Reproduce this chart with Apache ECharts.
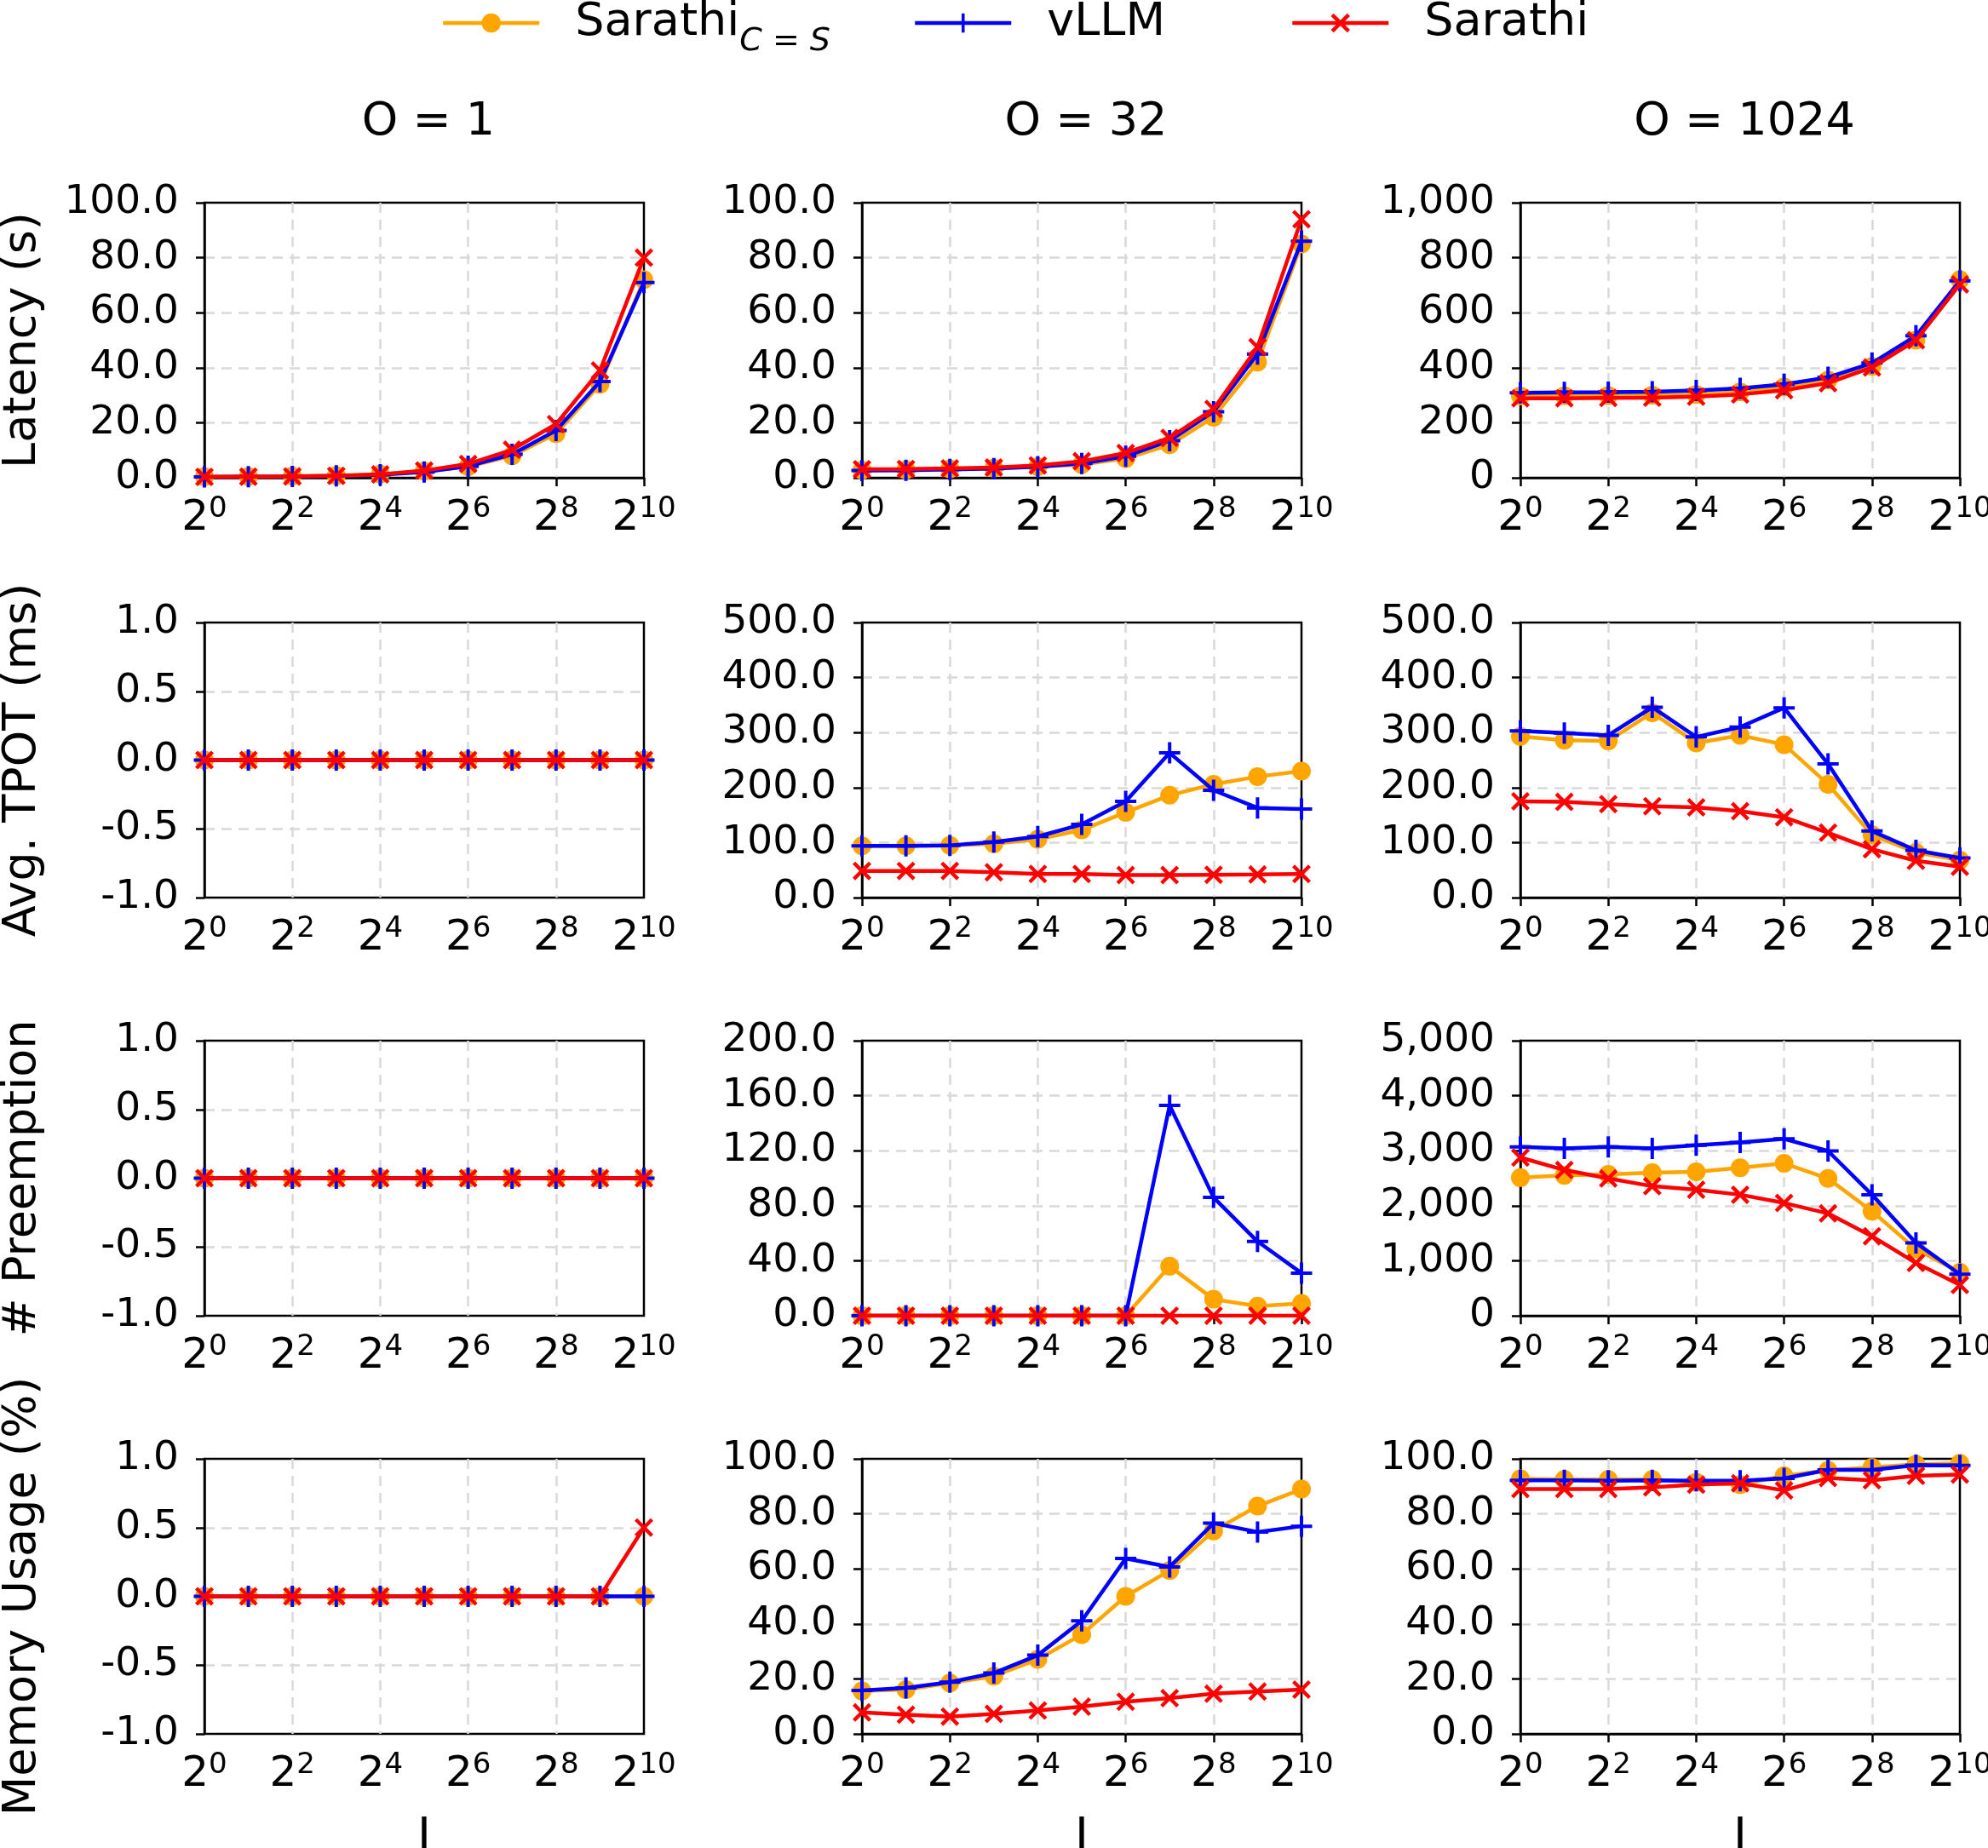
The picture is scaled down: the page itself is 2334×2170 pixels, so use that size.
<!DOCTYPE html>
<html>
<head>
<meta charset="utf-8">
<script src="https://cdn.jsdelivr.net/npm/echarts@6/dist/echarts.min.js"></script>
<style>
  html, body { margin: 0; padding: 0; background: #fff; }
  #main { width: 2334px; height: 2170px; }
</style>
</head>
<body>
<div id="main"></div>
<script>
// input length I (x axis)
const inputLens = [1, 2, 4, 8, 16, 32, 64, 128, 256, 512, 1024];
const zeros = [0, 0, 0, 0, 0, 0, 0, 0, 0, 0, 0];

// Latency (s)
const latO1Cs = [0.4, 0.5, 0.6, 0.8, 1.3, 2.4, 4.0, 8.0, 16.0, 34.0, 72.0];
const latO1Vllm = [0.3, 0.4, 0.5, 0.7, 1.1, 2.1, 4.2, 8.5, 17.2, 35.0, 71.0];
const latO1Sarathi = [0.3, 0.4, 0.5, 0.7, 1.2, 2.6, 5.0, 10.2, 19.5, 39.0, 80.0];
const latO32Cs = [2.8, 2.9, 3.2, 3.5, 4.0, 4.8, 7.0, 12.0, 22.0, 42.0, 85.0];
const latO32Vllm = [2.6, 2.7, 3.0, 3.3, 4.0, 5.2, 7.8, 13.5, 24.0, 45.0, 86.0];
const latO32Sarathi = [3.1, 3.2, 3.4, 3.7, 4.5, 6.0, 9.0, 14.5, 25.0, 47.5, 94.0];
const latO1024Cs = [297, 298, 299, 300, 303, 312, 330, 355, 405, 500, 720];
const latO1024Vllm = [309, 310, 311, 313, 317, 325, 340, 365, 417, 516, 716];
const latO1024Sarathi = [289, 289, 290, 291, 295, 303, 318, 344, 401, 500, 703];

// Avg. TPOT (ms)
const tpotO1Cs = zeros, tpotO1Vllm = zeros, tpotO1Sarathi = zeros;
const tpotO32Cs = [94, 94, 95, 98, 106, 123, 155, 186, 206, 220, 230];
const tpotO32Vllm = [94, 94, 95, 101, 111, 133, 175, 263, 195, 163, 161];
const tpotO32Sarathi = [48.5, 48.5, 48.5, 46, 43, 43, 41, 41, 41.5, 42, 43];
const tpotO1024Cs = [293, 286, 285, 336, 281, 295, 278, 206, 114, 82, 68];
const tpotO1024Vllm = [303, 299, 295, 346, 292, 310, 345, 243, 121, 86, 72];
const tpotO1024Sarathi = [175, 174, 170, 166, 164, 157, 146, 118, 88, 67, 56];

// # Preemption
const preO1Cs = zeros, preO1Vllm = zeros, preO1Sarathi = zeros;
const preO32Cs = [0, 0, 0, 0, 0, 0, 0, 36, 12, 7, 9];
const preO32Vllm = [0, 0, 0, 0, 0, 0, 0, 153, 86, 54, 31];
const preO32Sarathi = zeros;
const preO1024Cs = [2510, 2550, 2570, 2600, 2615, 2690, 2770, 2495, 1900, 1210, 790];
const preO1024Vllm = [3070, 3040, 3070, 3040, 3100, 3150, 3215, 2995, 2200, 1325, 755];
const preO1024Sarathi = [2875, 2650, 2495, 2355, 2290, 2200, 2050, 1860, 1445, 960, 560];

// Memory Usage (%)
const memO1Cs = zeros, memO1Vllm = zeros;
const memO1Sarathi = [0, 0, 0, 0, 0, 0, 0, 0, 0, 0, 0.5];
const memO32Cs = [15.6, 16.1, 18.5, 21.0, 27.1, 36.1, 50.0, 59.4, 73.8, 82.8, 89.0];
const memO32Vllm = [15.8, 16.7, 18.8, 22.1, 28.6, 41.1, 63.8, 60.7, 76.6, 73.4, 75.5];
const memO32Sarathi = [7.8, 7.0, 6.3, 7.3, 8.5, 9.9, 11.7, 13.0, 14.6, 15.4, 16.1];
const memO1024Cs = [92.7, 92.5, 92.5, 92.5, 91.5, 90.6, 93.8, 95.8, 96.9, 98.0, 98.4];
const memO1024Vllm = [92.2, 92.2, 92.0, 92.2, 92.0, 92.0, 92.9, 96.0, 96.0, 97.7, 97.6];
const memO1024Sarathi = [89.0, 89.0, 89.0, 89.6, 90.6, 91.1, 88.5, 93.0, 92.2, 93.8, 94.3];

const colTitles = ['O = 1', 'O = 32', 'O = 1024'];
const rowLabels = ['Latency (s)', 'Avg. TPOT (ms)', '# Preemption', 'Memory Usage (%)'];
const seriesNames = ['Sarathi_C=S', 'vLLM', 'Sarathi'];

// [cs, vllm, sarathi, yMin, yMax, yStep, comma?]
const panels = [
  [[latO1Cs, latO1Vllm, latO1Sarathi, 0, 100, 20, false],
   [latO32Cs, latO32Vllm, latO32Sarathi, 0, 100, 20, false],
   [latO1024Cs, latO1024Vllm, latO1024Sarathi, 0, 1000, 200, true]],
  [[tpotO1Cs, tpotO1Vllm, tpotO1Sarathi, -1, 1, 0.5, false],
   [tpotO32Cs, tpotO32Vllm, tpotO32Sarathi, 0, 500, 100, false],
   [tpotO1024Cs, tpotO1024Vllm, tpotO1024Sarathi, 0, 500, 100, false]],
  [[preO1Cs, preO1Vllm, preO1Sarathi, -1, 1, 0.5, false],
   [preO32Cs, preO32Vllm, preO32Sarathi, 0, 200, 40, false],
   [preO1024Cs, preO1024Vllm, preO1024Sarathi, 0, 5000, 1000, true]],
  [[memO1Cs, memO1Vllm, memO1Sarathi, -1, 1, 0.5, false],
   [memO32Cs, memO32Vllm, memO32Sarathi, 0, 100, 20, false],
   [memO1024Cs, memO1024Vllm, memO1024Sarathi, 0, 100, 20, false]]
];

const FONT = 'DejaVu Sans';
const gridLeft = [240, 1012, 1785];
const gridTop = [238, 731, 1222, 1713];
const W = 516, H = 323;

const colors = ['#FFA500', '#0000FF', '#FF0000'];
const plusPath = 'path://M8.4,0H11.6V8.4H20V11.6H11.6V20H8.4V11.6H0V8.4H8.4Z';
const crossPath = 'path://M0,2.8L2.8,0L10,7.2L17.2,0L20,2.8L12.8,10L20,17.2L17.2,20L10,12.8L2.8,20L0,17.2L7.2,10Z';
const symbols = ['circle', plusPath, crossPath];
const symbolSizes = [22, 25, 22];

const chart = echarts.init(document.getElementById('main'));

const grids = [], xAxes = [], yAxes = [], series = [], titles = [];
const lineCol = '#000';
const gridLineStyle = { color: '#d9d9d9', width: 2.5, type: [12, 8] };

panels.forEach((row, r) => {
  row.forEach((p, c) => {
    const idx = grids.length;
    grids.push({
      left: gridLeft[c], top: gridTop[r], width: W, height: H,
      outerBoundsMode: 'none', containLabel: false,
      show: true, borderColor: lineCol, borderWidth: 2.5, backgroundColor: 'transparent'
    });
    xAxes.push({
      gridIndex: idx, type: 'log', logBase: 2, min: 1, max: 1024, interval: 2,
      name: r === 3 ? 'I' : '', nameLocation: 'middle', nameGap: 95,
      nameTextStyle: { fontFamily: FONT, fontSize: 54, color: '#000' },
      axisLine: { show: true, lineStyle: { color: lineCol, width: 2.5 } },
      axisTick: { show: true, length: 10, lineStyle: { color: lineCol, width: 2.5 } },
      axisLabel: {
        margin: 20, color: '#000', fontFamily: FONT,
        formatter: v => '{b|2}{s|' + Math.round(Math.log2(v)) + '}',
        rich: {
          b: { fontSize: 50, fontFamily: FONT, color: '#000', lineHeight: 56 },
          s: { fontSize: 34, fontFamily: FONT, color: '#000', verticalAlign: 'top', lineHeight: 34 }
        }
      },
      splitLine: { show: true, showMinLine: false, showMaxLine: false, lineStyle: gridLineStyle }
    });
    yAxes.push({
      gridIndex: idx, type: 'value', min: p[3], max: p[4], interval: p[5],
      name: c === 0 ? rowLabels[r] : '', nameLocation: 'middle', nameGap: 186,
      nameTextStyle: { fontFamily: FONT, fontSize: 54, color: '#000' },
      axisLine: { show: true, lineStyle: { color: lineCol, width: 2.5 } },
      axisTick: { show: true, length: 10, lineStyle: { color: lineCol, width: 2.5 } },
      axisLabel: {
        margin: 30, color: '#000', fontFamily: FONT, fontSize: 47,
        formatter: p[6] ? (v => v.toLocaleString('en-US')) : (v => v.toFixed(1))
      },
      splitLine: { show: true, showMinLine: false, showMaxLine: false, lineStyle: gridLineStyle }
    });
    for (let s = 0; s < 3; s++) {
      series.push({
        name: seriesNames[s], type: 'line', xAxisIndex: idx, yAxisIndex: idx,
        data: inputLens.map((x, i) => [x, p[s][i]]),
        symbol: symbols[s], symbolSize: symbolSizes[s], showAllSymbol: true,
        itemStyle: { color: colors[s] },
        lineStyle: { color: colors[s], width: 4.5 },
        z: 2 + s, clip: true, animation: false
      });
    }
    if (r === 0) {
      titles.push({
        text: colTitles[c], left: gridLeft[c] + W / 2, top: 112, textAlign: 'center',
        textStyle: { fontFamily: FONT, fontSize: 54, fontWeight: 'normal', color: '#000' }
      });
    }
  });
});

const legendText = { fontFamily: FONT, fontSize: 54, color: '#000',
  rich: {
    m: { fontFamily: FONT, fontSize: 54, color: '#000', padding: [0, 0, 0, 37] },
    sub: { fontFamily: FONT, fontSize: 38, fontStyle: 'italic', color: '#000', verticalAlign: 'bottom', padding: [0, 0, -14, 0] }
  } };
const legendLefts = [518, 1072, 1515];
const legends = seriesNames.map((n, i) => ({
  data: [n], left: legendLefts[i], top: 0, padding: 0,
  itemWidth: 113, itemHeight: 28, textStyle: legendText,
  lineStyle: { width: 4.5 },
  formatter: name => name === 'Sarathi_C=S' ? '{m|Sarathi}{sub|C = S}' : '{m|' + name + '}'
}));

chart.setOption({
  backgroundColor: '#fff',
  animation: false,
  title: titles,
  legend: legends,
  grid: grids,
  xAxis: xAxes,
  yAxis: yAxes,
  series: series
});
</script>
</body>
</html>
